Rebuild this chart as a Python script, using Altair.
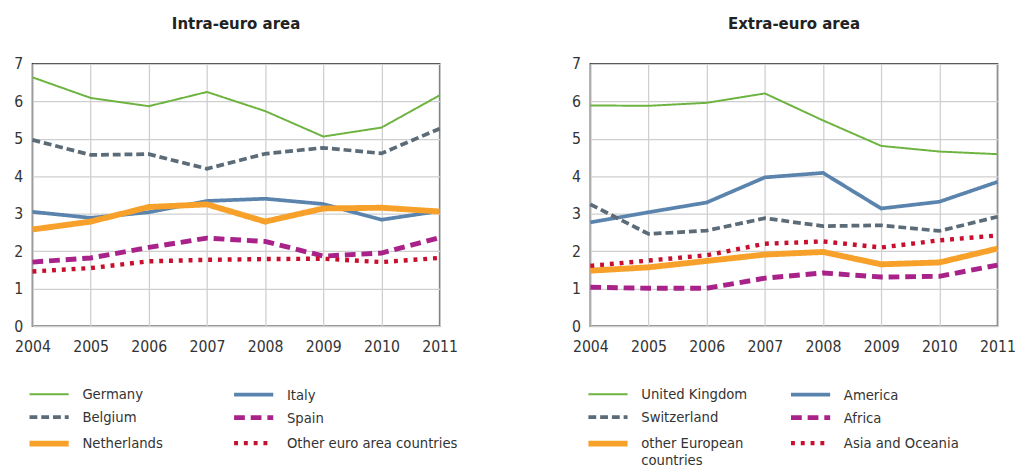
import altair as alt
import pandas as pd

years = [2004, 2005, 2006, 2007, 2008, 2009, 2010, 2011]

# Intra-euro area
intra_names = ["Germany", "Italy", "Belgium", "Spain", "Netherlands", "Other euro area countries"]
germany = [6.64, 6.09, 5.87, 6.25, 5.74, 5.06, 5.30, 6.16]
italy = [3.05, 2.89, 3.04, 3.34, 3.40, 3.26, 2.84, 3.07]
belgium = [4.97, 4.57, 4.59, 4.20, 4.60, 4.76, 4.61, 5.27]
spain = [1.71, 1.82, 2.10, 2.35, 2.26, 1.87, 1.95, 2.36]
netherlands = [2.58, 2.79, 3.18, 3.25, 2.79, 3.14, 3.16, 3.06]
other_euro = [1.46, 1.55, 1.73, 1.77, 1.79, 1.80, 1.71, 1.82]

# Extra-euro area
extra_names = ["United Kingdom", "America", "Switzerland", "Africa", "other European countries", "Asia and Oceania"]
uk = [5.89, 5.88, 5.96, 6.21, 5.49, 4.81, 4.66, 4.59]
america = [2.77, 3.04, 3.30, 3.97, 4.09, 3.14, 3.32, 3.85]
switzerland = [3.25, 2.46, 2.55, 2.88, 2.67, 2.69, 2.54, 2.92]
africa = [1.04, 1.01, 1.01, 1.28, 1.42, 1.31, 1.33, 1.63]
other_europe = [1.48, 1.57, 1.74, 1.91, 1.98, 1.65, 1.70, 2.07]
asia_oceania = [1.61, 1.75, 1.89, 2.20, 2.26, 2.10, 2.29, 2.42]

colors = ["#6cb33f", "#5a84ad", "#5b6b77", "#a8228a", "#f7a12b", "#c8102e"]
dashes = [[1, 0], [1, 0], [8, 4], [11, 6], [1, 0], [4, 6]]
widths = [2, 3.8, 3.8, 5, 6, 4.5]

FONT = "'Liberation Sans Narrow', 'DejaVu Sans Condensed', 'Liberation Sans', sans-serif"


def build(names, series, title, col_pad, lx):
    rows = []
    for n, vals in zip(names, series):
        for y, v in zip(years, vals):
            rows.append({"year": y, "value": v, "series": n})
    df = pd.DataFrame(rows)
    legend = alt.Legend(
        title=None, orient="none", legendX=lx, legendY=326, columns=2, direction="horizontal",
        symbolType="M-1,0L3,0", symbolSize=400, labelFontSize=15, labelFont=FONT,
        labelColor="#333", labelOffset=31, columnPadding=col_pad, rowPadding=3,
        labelLimit=300,
        labelExpr="datum.label == 'other European countries' ? ['other European', 'countries'] : datum.label",
    )
    return alt.Chart(df, title=alt.Title(title, fontSize=17, font=FONT, fontWeight="bold",
                                           color="#222", offset=24)).mark_line().encode(
        x=alt.X("year:Q", scale=alt.Scale(domain=[2004, 2011], nice=False),
                axis=alt.Axis(values=years, format="d", title=None, labelFlush=False,
                              labelOverlap=False)),
        y=alt.Y("value:Q", scale=alt.Scale(domain=[0, 7], nice=False),
                axis=alt.Axis(values=list(range(8)), title=None, labelFlush=False)),
        color=alt.Color("series:N", scale=alt.Scale(domain=names, range=colors), legend=legend),
        strokeDash=alt.StrokeDash("series:N", scale=alt.Scale(domain=names, range=dashes), legend=legend),
        strokeWidth=alt.StrokeWidth("series:N", scale=alt.Scale(type="ordinal", domain=names, range=widths), legend=legend),
        order=alt.Order("year:Q"),
    ).properties(width=416, height=268)


left = build(intra_names, [germany, italy, belgium, spain, netherlands, other_euro],
             "Intra-euro area", 62, -6)
right = build(extra_names, [uk, america, switzerland, africa, other_europe, asia_oceania],
              "Extra-euro area", 34, -5)

chart = alt.hconcat(left, right, spacing=114).resolve_scale(
    color="independent", strokeDash="independent", strokeWidth="independent"
).resolve_legend(color="independent", strokeDash="independent", strokeWidth="independent").configure_view(
    stroke="#333", strokeWidth=1.5
).configure_axis(
    grid=True, gridColor="#cfcfcf", gridWidth=1.3, domain=False, ticks=False,
    labelFont=FONT, labelFontSize=16, labelColor="#333", labelPadding=8,
).configure_axisX(labelPadding=13).configure_axisY(labelPadding=10).properties(
    padding={"left": 5, "top": 1, "right": 5, "bottom": 0}
)

chart.save("out.html", embed_options={"renderer": "svg", "actions": False})
